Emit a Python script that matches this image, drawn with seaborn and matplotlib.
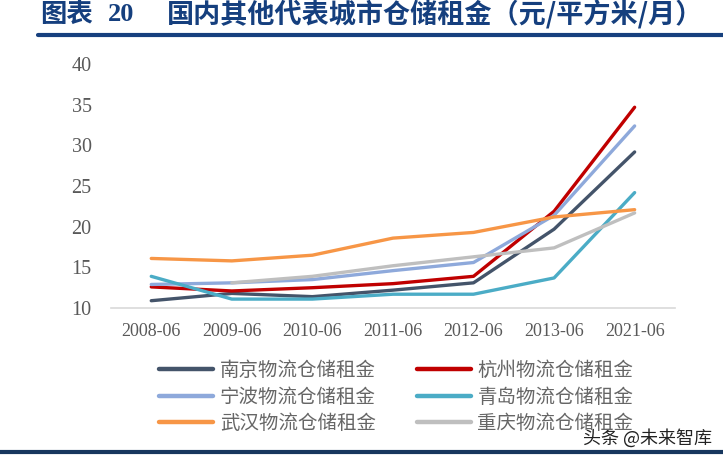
import matplotlib
matplotlib.use("Agg")
import matplotlib.pyplot as plt
import seaborn as sns
import numpy as np
import pandas as pd
from matplotlib.lines import Line2D

periods = ["2008-06", "2009-06", "2010-06", "2011-06", "2012-06", "2013-06", "2021-06"]
nanjing = [10.9, 11.8, 11.4, 12.2, 13.1, 19.7, 29.2]
hangzhou = [12.6, 12.1, 12.5, 13.0, 13.9, 21.9, 34.7]
ningbo = [12.9, 13.1, 13.5, 14.6, 15.6, 21.4, 32.4]
qingdao = [13.9, 11.1, 11.1, 11.7, 11.7, 13.7, 24.2]
wuhan = [16.1, 15.8, 16.5, 18.6, 19.3, 21.2, 22.1]
chongqing = [np.nan, 13.1, 13.9, 15.2, 16.3, 17.4, 21.7]

series_names = ["南京物流仓储租金", "杭州物流仓储租金", "宁波物流仓储租金",
                "青岛物流仓储租金", "武汉物流仓储租金", "重庆物流仓储租金"]
colors = ["#44546A", "#C00000", "#8EA9DB", "#4BACC6", "#F79646", "#BFBFBF"]

df = pd.DataFrame({"period": periods})
for name, vals in zip(series_names, [nanjing, hangzhou, ningbo, qingdao, wuhan, chongqing]):
    df[name] = vals
long_df = df.melt(id_vars="period", var_name="city", value_name="rent").dropna()

sns.set_style("white")
plt.rcParams["font.family"] = ["Noto Sans CJK SC", "DejaVu Sans"]

fig = plt.figure(figsize=(7.23, 4.55), dpi=100)
ax = fig.add_axes([0.1535, 0.323, 0.78, 0.536])

sns.lineplot(data=long_df, x="period", y="rent", hue="city", hue_order=series_names,
             palette=colors, linewidth=2.4, sort=False, legend=False, ax=ax)

ax.set_xlim(-0.5, len(periods) - 0.5)
ax.set_ylim(10, 40)
ax.set_yticks([10, 15, 20, 25, 30, 35, 40])
ax.set_xlabel("")
ax.set_ylabel("")

# category labels centred, ticks at category boundaries
ax.set_xticks(range(len(periods)))
ax.set_xticklabels(periods)
ax.set_xticks(np.arange(-0.5, len(periods)), minor=True)
ax.tick_params(axis="x", which="major", length=0, pad=11)
ax.tick_params(axis="x", which="minor", length=6, color="#D9D9D9", width=1.2)
ax.tick_params(axis="y", length=0, pad=14)
for lab in ax.get_xticklabels():
    lab.set_family("Liberation Serif")
    lab.set_fontsize(13)
    lab.set_color("#595959")
for lab in ax.get_yticklabels():
    lab.set_family("Liberation Serif")
    lab.set_fontsize(14.5)
    lab.set_color("#595959")

for side in ["left", "right", "top"]:
    ax.spines[side].set_visible(False)
ax.spines["bottom"].set_color("#D9D9D9")
ax.spines["bottom"].set_linewidth(1.2)

# legend filled row by row (matplotlib fills columns first)
order = [0, 2, 4, 1, 3, 5]
handles = [Line2D([0], [0], color=colors[i], lw=3.2) for i in order]
labels = [series_names[i] for i in order]
leg = fig.legend(handles, labels, ncol=2, loc="upper center",
                 bbox_to_anchor=(0.548, 0.247), frameon=False, fontsize=14,
                 handlelength=2.8, columnspacing=2.1, labelspacing=0.28, handletextpad=0.33)
for t in leg.get_texts():
    t.set_color("#666666")

# title and rules
title_color = "#153F7E"
fig.text(0.055, 0.968, "图表", fontsize=19, fontweight="bold", color=title_color, va="center")
fig.text(0.149, 0.968, "20", fontsize=19, fontweight="bold", family="Liberation Serif",
         color=title_color, va="center")
fig.text(0.231, 0.968, "国内其他代表城市仓储租金（元/平方米/月）", fontsize=19.5,
         fontweight="bold", color=title_color, va="center")
fig.add_artist(Line2D([0.052, 1.0], [0.923, 0.923], color="#17407E", lw=3))
fig.add_artist(Line2D([0.0, 1.0], [0.006, 0.006], color="#17375E", lw=3))

fig.text(0.985, 0.036, "头条 @未来智库", fontsize=13, color="#222222", ha="right", va="center")

fig.savefig("out.png", dpi=100)
plt.close(fig)
print("saved out.png")
